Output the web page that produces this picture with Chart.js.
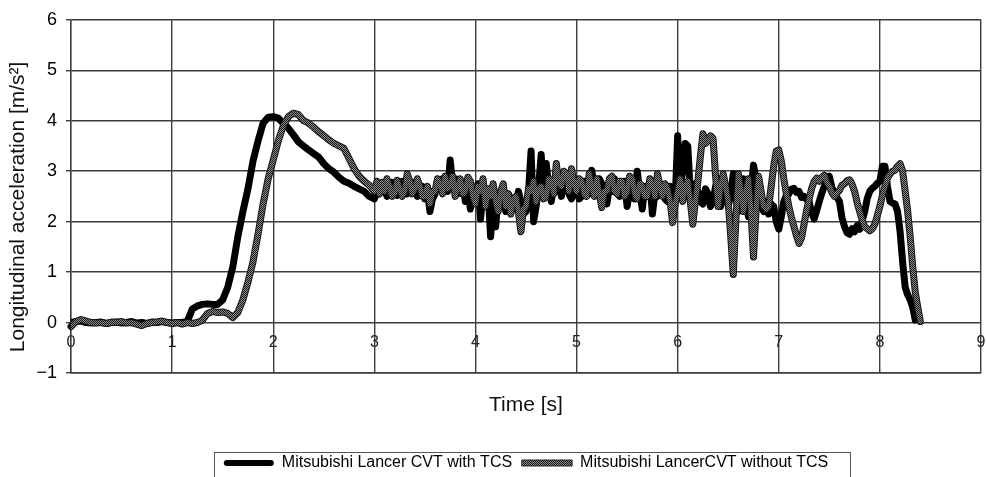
<!DOCTYPE html>
<html><head><meta charset="utf-8">
<script src="https://cdn.jsdelivr.net/npm/chart.js@4.4.1/dist/chart.umd.min.js"></script>
<style>html,body{margin:0;padding:0;background:#fff}</style>
</head><body>
<canvas id="c" width="986" height="477"></canvas>
<script>
// time stamps [s]: 0.05 s steps up to 2.95 s, then 0.025 s steps
const times = [
0.00,0.05,0.10,0.15,0.20,0.25,0.30,0.35,0.40,0.45,0.50,0.55,0.60,0.65,0.70,0.75,0.80,0.85,0.90,0.95,
1.00,1.05,1.10,1.15,1.20,1.25,1.30,1.35,1.40,1.45,1.50,1.55,1.60,1.65,1.70,1.75,1.80,1.85,1.90,1.95,
2.00,2.05,2.10,2.15,2.20,2.25,2.30,2.35,2.40,2.45,2.50,2.55,2.60,2.65,2.70,2.75,2.80,2.85,2.90,2.95,
3.000,3.025,3.050,3.075,3.100,3.125,3.150,3.175,3.200,3.225,3.250,3.275,3.300,3.325,3.350,3.375,3.400,3.425,3.450,3.475,
3.500,3.525,3.550,3.575,3.600,3.625,3.650,3.675,3.700,3.725,3.750,3.775,3.800,3.825,3.850,3.875,3.900,3.925,3.950,3.975,
4.000,4.025,4.050,4.075,4.100,4.125,4.150,4.175,4.200,4.225,4.250,4.275,4.300,4.325,4.350,4.375,4.400,4.425,4.450,4.475,
4.500,4.525,4.550,4.575,4.600,4.625,4.650,4.675,4.700,4.725,4.750,4.775,4.800,4.825,4.850,4.875,4.900,4.925,4.950,4.975,
5.000,5.025,5.050,5.075,5.100,5.125,5.150,5.175,5.200,5.225,5.250,5.275,5.300,5.325,5.350,5.375,5.400,5.425,5.450,5.475,
5.500,5.525,5.550,5.575,5.600,5.625,5.650,5.675,5.700,5.725,5.750,5.775,5.800,5.825,5.850,5.875,5.900,5.925,5.950,5.975,
6.000,6.025,6.050,6.075,6.100,6.125,6.150,6.175,6.200,6.225,6.250,6.275,6.300,6.325,6.350,6.375,6.400,6.425,6.450,6.475,
6.500,6.525,6.550,6.575,6.600,6.625,6.650,6.675,6.700,6.725,6.750,6.775,6.800,6.825,6.850,6.875,6.900,6.925,6.950,6.975,
7.000,7.025,7.050,7.075,7.100,7.125,7.150,7.175,7.200,7.225,7.250,7.275,7.300,7.325,7.350,7.375,7.400,7.425,7.450,7.475,
7.500,7.525,7.550,7.575,7.600,7.625,7.650,7.675,7.700,7.725,7.750,7.775,7.800,7.825,7.850,7.875,7.900,7.925,7.950,7.975,
8.000,8.025,8.050,8.075,8.100,8.125,8.150,8.175,8.200,8.225,8.250,8.275,8.300,8.325,8.350,8.375,8.400];

// Mitsubishi Lancer CVT with TCS [m/s²]
const withTCS = [
0.00,0.02,0.03,0.00,-0.01,0.00,0.01,-0.02,0.00,0.01,-0.01,0.00,0.02,-0.01,0.00,-0.02,0.01,0.00,0.02,0.00,
-0.01,0.00,0.00,0.02,0.27,0.33,0.36,0.37,0.36,0.36,0.45,0.70,1.10,1.70,2.20,2.65,3.20,3.60,3.95,4.07,
4.08,4.05,3.95,3.85,3.72,3.58,3.50,3.42,3.35,3.28,3.15,3.05,2.98,2.88,2.80,2.76,2.70,2.65,2.60,2.50,
2.45,2.62,2.55,2.72,2.65,2.50,2.60,2.78,2.70,2.52,2.62,2.80,2.75,2.55,2.60,2.78,2.70,2.50,2.55,2.70,
2.45,2.60,2.20,2.45,2.55,2.80,2.70,2.85,2.75,2.60,3.22,2.75,2.85,2.55,2.60,2.75,2.40,2.65,2.25,2.60,
2.50,2.75,2.05,2.55,2.40,2.60,1.70,2.35,1.90,2.55,2.35,2.60,2.20,2.55,2.45,2.25,2.30,2.60,2.40,2.15,
2.20,2.60,3.40,2.00,2.30,2.70,3.33,2.50,3.15,2.70,2.40,2.75,2.60,2.80,2.50,2.85,2.70,2.55,2.45,2.80,
2.65,2.45,2.50,2.80,2.75,2.55,3.02,2.70,2.60,2.85,2.75,2.50,2.35,2.70,2.60,2.85,2.70,2.50,2.55,2.80,
2.30,2.60,2.75,2.45,3.00,2.60,2.25,2.70,2.60,2.80,2.15,2.55,2.50,2.75,2.65,2.45,2.40,2.70,2.60,2.40,
3.70,2.70,3.00,3.55,3.50,2.60,2.50,2.75,2.60,2.40,2.35,2.65,2.55,2.30,2.40,2.70,2.50,2.30,2.90,2.60,
2.30,2.55,2.95,2.50,2.20,2.60,2.85,2.40,2.10,2.60,3.12,2.85,2.60,2.30,2.20,2.40,2.15,2.35,2.30,2.00,
1.85,2.10,2.40,2.52,2.55,2.64,2.66,2.58,2.60,2.48,2.50,2.44,2.40,2.18,2.05,2.22,2.40,2.56,2.70,2.82,
2.90,2.68,2.55,2.48,2.40,2.08,1.90,1.78,1.75,1.86,1.80,1.92,1.85,2.02,2.20,2.46,2.60,2.66,2.70,2.76,
2.80,3.10,3.10,2.70,2.40,2.37,2.35,2.20,1.80,1.20,0.70,0.55,0.45,0.30,0.05,null,null];

// Mitsubishi LancerCVT without TCS [m/s²]
const withoutTCS = [
-0.08,0.02,0.06,0.03,0.00,-0.01,0.00,-0.02,0.01,0.00,0.02,-0.01,0.00,-0.03,-0.06,-0.02,0.00,0.01,0.03,0.00,
-0.02,0.00,-0.03,0.00,-0.02,0.00,0.05,0.18,0.22,0.20,0.21,0.18,0.10,0.20,0.45,0.80,1.20,1.75,2.35,2.85,
3.22,3.60,3.90,4.08,4.15,4.12,4.00,3.95,3.87,3.78,3.70,3.62,3.55,3.50,3.45,3.25,3.05,2.90,2.80,2.72,
2.60,2.80,2.55,2.78,2.60,2.85,2.70,2.50,2.55,2.82,2.65,2.50,2.60,2.95,2.80,2.55,2.65,2.85,2.70,2.50,
2.50,2.70,2.35,2.60,2.60,2.85,2.75,2.55,2.90,2.65,2.70,2.90,2.50,2.70,2.85,2.55,2.60,2.88,2.80,2.50,
2.35,2.70,2.60,2.85,2.30,2.65,2.50,2.75,2.40,2.20,2.60,2.75,2.30,2.55,2.15,2.45,2.50,2.20,1.80,2.25,
2.30,2.65,2.60,2.80,2.40,2.65,2.70,2.45,2.50,2.85,2.80,2.55,3.15,2.75,2.70,3.00,2.95,2.60,3.05,2.75,
2.60,2.85,2.80,2.55,2.50,2.95,2.70,2.50,2.85,2.55,2.28,2.60,2.60,2.85,2.90,2.60,2.55,2.80,2.80,2.50,
2.60,2.90,2.85,2.55,2.45,2.75,2.70,2.50,2.50,2.85,2.75,2.50,2.95,2.70,2.50,2.75,2.65,2.40,1.98,2.35,
2.60,2.85,2.40,2.70,2.80,2.40,1.95,2.40,2.80,3.30,3.74,3.55,3.60,3.70,3.65,2.90,2.30,2.70,2.95,2.70,
2.40,1.70,0.95,2.00,2.95,2.60,2.20,2.60,2.85,2.20,1.30,2.20,2.90,2.60,2.30,2.25,2.30,2.70,3.10,3.40,
3.42,3.20,2.85,2.55,2.30,2.08,1.90,1.72,1.57,1.68,1.95,2.22,2.45,2.66,2.80,2.86,2.80,2.88,2.92,2.78,
2.70,2.58,2.50,2.56,2.62,2.72,2.75,2.81,2.83,2.74,2.60,2.38,2.20,2.04,1.90,1.86,1.82,1.86,1.95,2.12,
2.30,2.52,2.70,2.86,2.95,3.00,3.02,3.10,3.15,3.00,2.60,2.20,1.70,1.10,0.60,0.30,0.02];

const seriesNames = ['Mitsubishi Lancer CVT with TCS', 'Mitsubishi LancerCVT without TCS'];
const xTitle = 'Time [s]';
const yTitle = 'Longitudinal acceleration [m/s\u00B2]\u2003';
const xRange = [0, 9];
const yRange = [-1, 6];

const FONT = "'Liberation Sans', Arial, Helvetica, sans-serif";
Chart.defaults.font.family = FONT;

function makePattern() {
  const c = document.createElement('canvas');
  c.width = 2; c.height = 2;
  const g = c.getContext('2d');
  g.fillStyle = '#8e8e8e'; g.fillRect(0, 0, 2, 2);
  g.fillStyle = '#151515'; g.fillRect(0, 0, 1, 1); g.fillRect(1, 1, 1, 1);
  return g.createPattern(c, 'repeat');
}
const pat = makePattern();

const outlinePlugin = {
  id: 'outline',
  beforeDatasetDraw(chart, args) {
    if (args.index !== 1) return;
    const line = args.meta.dataset;
    const ctx = chart.ctx;
    const a = chart.chartArea;
    ctx.save();
    ctx.beginPath();
    ctx.rect(a.left - 4, a.top - 4, a.right - a.left + 8, a.bottom - a.top + 8);
    ctx.clip();
    ctx.beginPath();
    line.path(ctx);
    ctx.lineWidth = 7;
    ctx.strokeStyle = '#151515';
    ctx.lineJoin = 'round';
    ctx.lineCap = 'round';
    ctx.stroke();
    ctx.restore();
  }
};

const legendBoxPlugin = {
  id: 'legendBox',
  afterDraw(chart) {
    const lg = chart.legend;
    if (!lg || !lg.legendHitBoxes || !lg.legendHitBoxes.length) return;
    const hb = lg.legendHitBoxes;
    const last = hb[hb.length - 1];
    const l = Math.round(hb[0].left - 10) + 0.5;
    const r = Math.round(last.left + last.width + 22) + 0.5;
    const t = Math.round(lg.top + 7) + 0.5;
    const ctx = chart.ctx;
    ctx.save();
    ctx.strokeStyle = '#555';
    ctx.lineWidth = 1;
    ctx.strokeRect(l, t, r - l, 60);
    ctx.restore();
  }
};

const gridColor = '#3d3d3d';
function noSidePad(s) { s.paddingLeft = 0; s.paddingRight = 0; }

new Chart(document.getElementById('c'), {
  type: 'line',
  data: {
    datasets: [
      {
        label: seriesNames[0],
        data: times.map((t, i) => ({x: t, y: withTCS[i]})),
        borderColor: '#000', backgroundColor: '#000',
        borderWidth: 7, pointRadius: 0, tension: 0,
        borderJoinStyle: 'round', borderCapStyle: 'round',
        order: 1
      },
      {
        label: seriesNames[1],
        data: times.map((t, i) => ({x: t, y: withoutTCS[i]})),
        borderColor: pat, backgroundColor: pat,
        borderWidth: 5, pointRadius: 0, tension: 0,
        borderJoinStyle: 'round', borderCapStyle: 'round',
        order: 0
      }
    ]
  },
  options: {
    responsive: false,
    devicePixelRatio: 1,
    animation: false,
    layout: {padding: {top: 14, right: 5, left: 0, bottom: -4}},
    plugins: {
      tooltip: {enabled: false},
      legend: {
        position: 'bottom',
        fullSize: false,
        labels: {
          boxWidth: 50, boxHeight: 6, padding: 10,
          font: {family: FONT, size: 16}, color: '#000',
          useBorderRadius: true, borderRadius: 3,
          sort: (a, b) => a.datasetIndex - b.datasetIndex,
          generateLabels(chart) {
            const items = Chart.defaults.plugins.legend.labels.generateLabels(chart);
            items.forEach(it => {
              if (it.datasetIndex === 0) { it.lineWidth = 0; }
              else { it.lineWidth = 1; it.strokeStyle = '#222'; it.borderRadius = 0; }
            });
            return items;
          }
        }
      }
    },
    scales: {
      x: {
        type: 'linear', position: 'bottom', min: xRange[0], max: xRange[1],
        ticks: {display: false, stepSize: 1},
        grid: {color: gridColor, lineWidth: 1.4, drawTicks: false},
        border: {display: true, color: gridColor, width: 1.4},
        title: {display: true, text: xTitle, color: '#111', font: {family: FONT, size: 21}, padding: {top: 0, bottom: 27}},
        afterFit(s) { s.height = 72; noSidePad(s); }
      },
      x2: {
        type: 'linear', axis: 'x', position: {y: 0}, min: xRange[0], max: xRange[1],
        ticks: {stepSize: 1, color: '#222', font: {family: FONT, size: 16}, padding: 10},
        grid: {display: false, drawTicks: false},
        border: {display: false},
        afterFit(s) { noSidePad(s); }
      },
      y: {
        type: 'linear', position: 'left', min: yRange[0], max: yRange[1],
        ticks: {stepSize: 1, color: '#000', font: {family: FONT, size: 18}, padding: 9,
          callback: v => (v < 0 ? '\u2212' + Math.abs(v) : String(v))},
        grid: {color: gridColor, lineWidth: 1.4, tickLength: 5},
        border: {display: true, color: gridColor, width: 1.4},
        title: {display: true, text: yTitle, color: '#111', font: {family: FONT, size: 21}, padding: {top: 6, bottom: 0}},
        afterFit(s) { s.width = 71; }
      }
    }
  },
  plugins: [outlinePlugin, legendBoxPlugin]
});
</script>
</body></html>
